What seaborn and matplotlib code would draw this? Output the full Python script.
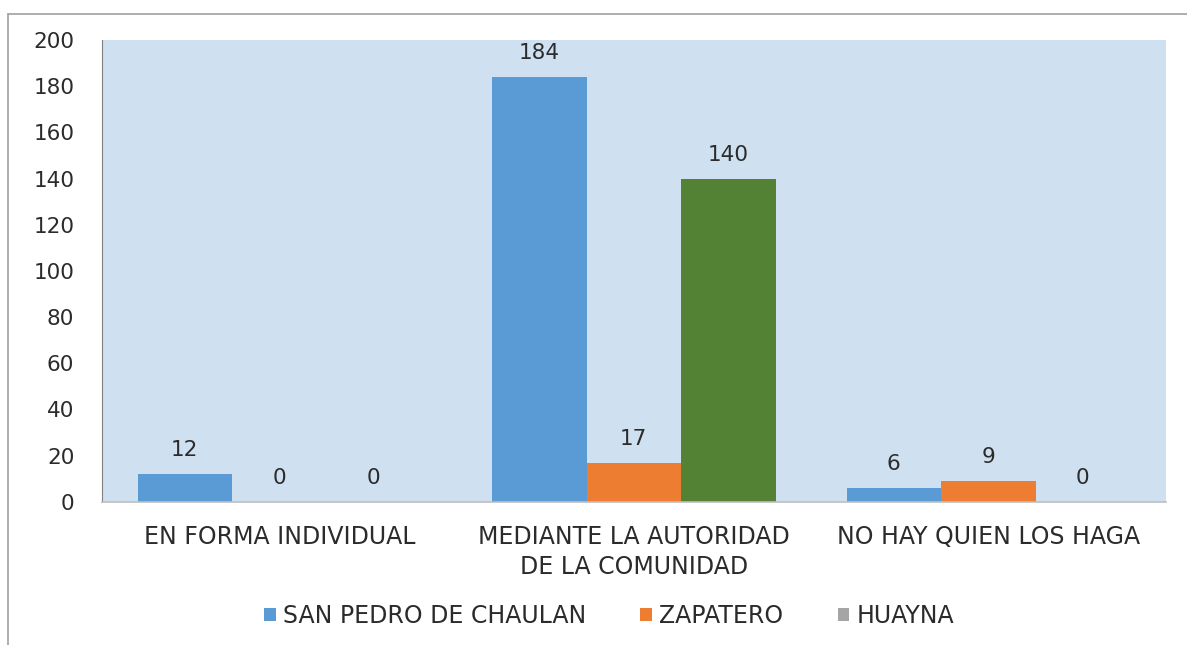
import pandas as pd
import matplotlib.pyplot as plt
import seaborn as sns
from matplotlib.patches import Patch
from matplotlib.lines import Line2D

# datos del grafico
categorias = ["EN FORMA INDIVIDUAL", "MEDIANTE LA AUTORIDAD\nDE LA COMUNIDAD", "NO HAY QUIEN LOS HAGA"]
comunidades = ["SAN PEDRO DE CHAULAN", "ZAPATERO", "HUAYNA"]
san_pedro = [12, 184, 6]
zapatero = [0, 17, 9]
huayna = [0, 140, 0]

colores = ["#5B9BD5", "#ED7D31", "#A5A5A5"]

df = pd.DataFrame({
    "categoria": categorias * 3,
    "comunidad": [c for c in comunidades for _ in categorias],
    "valor": san_pedro + zapatero + huayna,
})

sns.set_style("white")
plt.rcParams["font.family"] = ["DejaVu Sans"]

fig = plt.figure(figsize=(11.87, 6.45), dpi=100)
ax = fig.add_axes([0.086, 0.222, 0.896, 0.716])

sns.barplot(data=df, x="categoria", y="valor", hue="comunidad", order=categorias,
            hue_order=comunidades, palette=colores, saturation=1, width=0.8,
            linewidth=0, legend=False, ax=ax)

# la barra de HUAYNA en el grupo central sale verde en el original
ax.containers[2][1].set_facecolor("#548235")

for cont in ax.containers:
    ax.bar_label(cont, padding=10, fontsize=15.5, color="#2b2b2b")

ax.set_facecolor("#CFE0F1")
ax.set_ylim(0, 200)
ax.set_yticks(range(0, 201, 20))
ax.set_xlabel("")
ax.set_ylabel("")
ax.tick_params(axis="y", labelsize=15.5, pad=20, length=0, colors="#2b2b2b")
ax.tick_params(axis="x", labelsize=17, pad=17, length=0, colors="#2b2b2b")
for lab in ax.get_xticklabels():
    lab.set_multialignment("center")
    lab.set_linespacing(1.3)
for s in ["top", "right"]:
    ax.spines[s].set_visible(False)
ax.spines["left"].set_color("#808080")
ax.spines["left"].set_linewidth(0.8)
ax.spines["bottom"].set_color("#BFBFBF")
ax.spines["bottom"].set_linewidth(1.2)

handles = [Patch(facecolor=c, edgecolor="none") for c in colores]
fig.legend(handles, comunidades, loc="center", bbox_to_anchor=(0.513, 0.045), ncol=3,
           frameon=False, fontsize=17, handlelength=0.5, handleheight=0.5,
           columnspacing=2.3, handletextpad=0.3, labelcolor="#2b2b2b")

# borde exterior del grafico
fig.add_artist(Line2D([0.0067, 0.0067], [0.0, 0.978], color="#A0A0A0", lw=1.2, transform=fig.transFigure))
fig.add_artist(Line2D([0.0067, 1.0], [0.978, 0.978], color="#A0A0A0", lw=1.2, transform=fig.transFigure))

fig.savefig("out.png", dpi=100, facecolor="white")
